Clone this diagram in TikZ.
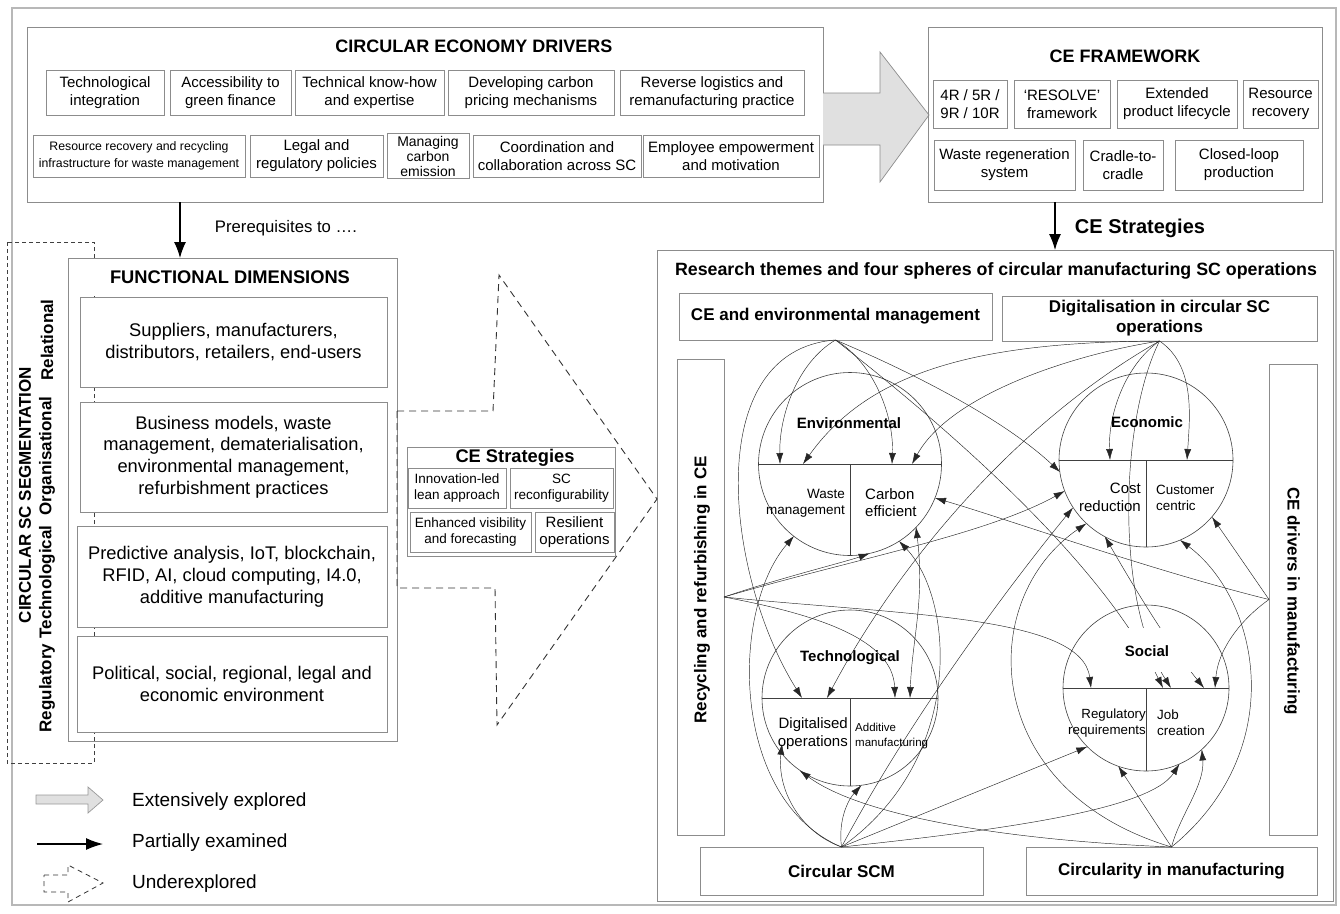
\documentclass[tikz,border=0pt]{standalone}
\usepackage{fontspec}
\setmainfont{Liberation Sans}
\usetikzlibrary{arrows.meta}
\newcommand{\fs}[2]{\fontsize{#1}{#2}\selectfont}
\begin{document}
\begin{tikzpicture}[x=1pt,y=-1pt,
  gbox/.style={draw=black!45, line width=0.8pt, fill=white, align=center, inner sep=1pt, outer sep=0pt},
  obox/.style={draw=black!45, line width=1pt, inner sep=0pt, outer sep=0pt},
  sph/.style={circle, draw=black!75, line width=0.6pt, inner sep=0pt, outer sep=0pt},
  arr/.style={draw=black!85, line width=0.45pt, -{Latex[length=11pt,width=7pt]}},
  arrb/.style={draw=black!85, line width=0.45pt, {Latex[length=11pt,width=7pt]}-{Latex[length=11pt,width=7pt]}},
  bigarr/.style={draw=black, line width=1.2pt, -{Latex[length=16pt,width=12pt]}},
  lbl/.style={inner sep=0pt, align=center},
  dsh/.style={draw=black!80, line width=0.9pt, dash pattern=on 7pt off 5pt},
]
\useasboundingbox (0,0) rectangle (1340,913);
% outer frame
\draw[black!28, line width=1.6pt] (12,8) rectangle (1336,905);

% ---------------- DRIVERS ----------------
\node[obox, minimum width=796pt, minimum height=175pt] (drv) at (425,114.5) {};
\node[lbl, font=\bfseries\fs{18}{21}] (drvt) at (474,46) {CIRCULAR ECONOMY DRIVERS};
\begin{scope}[every node/.style={gbox, font=\fs{15}{18}}]
\node[minimum width=118pt, minimum height=45pt] (d1) at (105,92.5) {Technological\\integration};
\node[minimum width=121pt, minimum height=45pt] (d2) at (230.5,92.5) {Accessibility to\\green finance};
\node[minimum width=149pt, minimum height=45pt] (d3) at (369.5,92.5) {Technical know-how\\and expertise};
\node[minimum width=166pt, minimum height=45pt] (d4) at (531,92.5) {Developing carbon\\pricing mechanisms};
\node[minimum width=184pt, minimum height=45pt] (d5) at (712,92.5) {Reverse logistics and\\remanufacturing practice};
\node[minimum width=212pt, minimum height=42pt, font=\fs{12.3}{17}] (d6) at (139,156) {Resource recovery and recycling\\infrastructure for waste management};
\node[minimum width=133pt, minimum height=42pt] (d7) at (316.5,156) {Legal and\\regulatory policies};
\node[minimum width=82pt, minimum height=45pt, font=\fs{14}{15}] (d8) at (428,156) {Managing\\carbon\\emission};
\node[minimum width=168pt, minimum height=42pt] (d9) at (557,156) {Coordination and\\collaboration across SC};
\node[minimum width=176pt, minimum height=42pt] (d10) at (731,156) {Employee empowerment\\and motivation};
\end{scope}

% big grey arrow
\draw[draw=black!45, fill=black!12, line width=0.7pt] (823,93) -- (880,93) -- (880,52) -- (929,115) -- (880,182) -- (880,145) -- (823,145);

% ---------------- CE FRAMEWORK ----------------
\node[obox, minimum width=394pt, minimum height=175pt] (frm) at (1125,114.5) {};
\node[lbl, font=\bfseries\fs{18}{21}] (frmt) at (1125,56) {CE FRAMEWORK};
\begin{scope}[every node/.style={gbox, font=\fs{15}{18}}]
\node[minimum width=74pt, minimum height=48pt] (f1) at (970,104) {4R / 5R /\\9R / 10R};
\node[minimum width=96pt, minimum height=48pt] (f2) at (1062,104) {‘RESOLVE’\\framework};
\node[minimum width=120pt, minimum height=48pt] (f3) at (1177,104) {Extended\\product lifecycle};
\node[minimum width=75pt, minimum height=48pt] (f4) at (1280.5,104) {Resource\\recovery};
\node[minimum width=141pt, minimum height=50pt] (f5) at (1004.5,165) {Waste regeneration\\system};
\node[minimum width=80pt, minimum height=50pt] (f6) at (1123,165) {Cradle-to-\\cradle};
\node[minimum width=128pt, minimum height=50pt] (f7) at (1239,165) {Closed-loop\\production};
\end{scope}

% ---------------- RESEARCH BOX ----------------
\node[obox, minimum width=676pt, minimum height=651pt] (res) at (995,575.5) {};
\draw[bigarr] ([xshift=-70pt]frm.south) -- ([xshift=60pt]res.north);
\node[lbl, font=\bfseries\fs{20}{23}] (cest) at (1140,228) {CE Strategies};
\node[lbl, font=\bfseries\fs{17.8}{21}] (rest) at (996,271) {Research themes and four spheres of circular manufacturing SC operations};

\begin{scope}[every node/.style={gbox, font=\bfseries\fs{17}{20}}]
\node[minimum width=313pt, minimum height=47pt] (ceem) at (835.5,316.5) {CE and environmental management};
\node[minimum width=315pt, minimum height=45pt] (dig) at (1159.5,318.5) {Digitalisation in circular SC\\operations};
\node[minimum width=47pt, minimum height=476pt] (rec) at (700.5,597) {};
\node[minimum width=48pt, minimum height=471pt] (ced) at (1293,599.5) {};
\node[minimum width=283pt, minimum height=48pt] (scm) at (841.5,871) {Circular SCM};
\node[minimum width=291pt, minimum height=48pt] (cim) at (1171.5,871) {Circularity in manufacturing};
\end{scope}
\node[lbl, rotate=90, font=\bfseries\fs{17}{20}] (rect) at (702,590) {Recycling and refurbishing in CE};
\node[lbl, rotate=-90, font=\bfseries\fs{17}{20}] (cedt) at (1292,601) {CE drivers in manufacturing};

% sources
\coordinate (A) at (ceem.south);
\coordinate (B) at (dig.south);
\coordinate (C) at (rec.east);
\coordinate (D) at (ced.west);
\coordinate (E) at (scm.north);
\coordinate (F) at (cim.north);

% spheres
\node[sph, minimum size=183pt] (env) at (850,464) {};
\node[sph, minimum size=174pt] (eco) at (1146,460) {};
\node[sph, minimum size=176pt] (tec) at (850,698) {};
\node[sph, minimum size=166pt] (soc) at (1146,688) {};
\foreach \s in {env,eco,tec,soc}{
  \draw[black!75, line width=0.6pt] (\s.west) -- (\s.east);
  \draw[black!75, line width=0.6pt] (\s.center) -- (\s.south);
}

% target coordinates
\coordinate (e1) at (780,464); \coordinate (e2) at (803,464);
\coordinate (e3) at (892,464); \coordinate (e4) at (912,464);
\coordinate (e5) at (935,498); \coordinate (e6) at (916,527);
\coordinate (e7) at (899,541); \coordinate (e8) at (869.6,553.4);
\coordinate (e9) at (794,536);
\coordinate (c1) at (1110,460); \coordinate (c2) at (1187,460);
\coordinate (c3) at (1060,472); \coordinate (c4) at (1064.7,491);
\coordinate (c5) at (1073,507.6); \coordinate (c6) at (1086.4,523.4);
\coordinate (c7) at (1104.8,536.6); \coordinate (c8) at (1180,540);
\coordinate (c9) at (1212,517);
\coordinate (t1) at (802,698); \coordinate (t2) at (827,698);
\coordinate (t3) at (895,698); \coordinate (t4) at (910,698);
\coordinate (t5) at (782,743.7); \coordinate (t6) at (799.7,770.5);
\coordinate (t7) at (861.4,785.2);
\coordinate (s1) at (1091,688); \coordinate (s2) at (1163,688);
\coordinate (s3) at (1171,688); \coordinate (s4) at (1204,688);
\coordinate (s5) at (1215,688);
\coordinate (s6) at (1087.3,746.7); \coordinate (s7) at (1118.3,766.2);
\coordinate (s8) at (1179.4,764); \coordinate (s9) at (1201.8,749.4);

% connectors
\draw[arr] (A) .. controls (798,362) and (779,415) .. (e1);
\draw[arr] (A) .. controls (873,362) and (894,415) .. (e3);
\draw[arr] (A) .. controls (700,350) and (725,575) .. (t1);
\draw[arr] (A) .. controls (930,380) and (1010,425) .. (c3);
\draw[arr] (A) .. controls (950,430) and (1100,560) .. (s2);
\draw[arr] (B) .. controls (1125,365) and (1108,415) .. (c1);
\draw[arr] (B) .. controls (1195,365) and (1190,415) .. (c2);
\draw[arr] (B) .. controls (980,342) and (870,370) .. (e2);
\draw[arr] (B) .. controls (1070,355) and (950,395) .. (e4);
\draw[arr] (B) .. controls (1020,420) and (900,560) .. (t2);
\draw[arr] (B) .. controls (1120,420) and (1115,600) .. (s3);
\draw[arr] (C) .. controls (780,578) and (845,562) .. (e8);
\draw[arr] (C) .. controls (850,560) and (985,535) .. (c4);
\draw[arr] (C) .. controls (820,615) and (893,640) .. (t3);
\draw[arr] (C) .. controls (900,615) and (1082,615) .. (s1);
\draw[arr] (D) .. controls (1150,570) and (1010,520) .. (e5);
\draw[arr] (D) .. controls (1250,572) and (1228,540) .. (c9);
\draw[arr] (D) .. controls (1240,620) and (1218,650) .. (s5);
\draw[arr] (E) .. controls (730,800) and (730,610) .. (e9);
\draw[arr] (E) .. controls (800,832) and (777,790) .. (t5);
\draw[arr] (E) .. controls (838,820) and (848,800) .. (t7);
\draw[arr] (E) -- (s6);
\draw[arr] (E) .. controls (1000,830) and (1150,810) .. (s8);
\draw[arr] (E) .. controls (920,700) and (1030,560) .. (c5);
\draw[arr] (E) .. controls (965,760) and (955,600) .. (e7);
\draw[arr] (F) .. controls (1000,840) and (860,815) .. (t6);
\draw[arr] (F) -- (s7);
\draw[arr] (F) .. controls (1180,815) and (1205,785) .. (s9);
\draw[arr] (F) .. controls (980,790) and (975,600) .. (c6);
\draw[arr] (F) .. controls (1290,750) and (1260,600) .. (c8);
\draw[arrb] (e6) .. controls (925,600) and (912,640) .. (t4);
\draw[arrb] (c7) .. controls (1130,580) and (1165,640) .. (s4);

% sphere labels
\node[lbl, font=\bfseries\fs{15}{18}] (envt) at (849,423) {Environmental};
\node[lbl, anchor=east, align=right, font=\fs{13.5}{16}] (envw) at (845,503) {Waste\\management};
\node[lbl, anchor=west, align=left, font=\fs{15}{17}] (envc) at (865,503) {Carbon\\efficient};
\node[lbl, font=\bfseries\fs{15}{18}] (ecot) at (1147,422) {Economic};
\node[lbl, anchor=east, align=right, font=\fs{15}{18}] (ecoc) at (1141,497) {Cost\\reduction};
\node[lbl, anchor=west, align=left, font=\fs{13.4}{16}] (ecou) at (1156,498) {Customer\\centric};
\node[lbl, font=\bfseries\fs{15}{18}] (tect) at (850,658) {Technological};
\node[lbl, anchor=east, align=right, font=\fs{15}{18}] (tecd) at (848,734) {Digitalised\\operations};
\node[lbl, anchor=west, align=left, font=\fs{11.5}{15}] (teca) at (855,736) {Additive\\manufacturing};
\node[fill=white, inner sep=0pt, minimum width=92pt, minimum height=44pt] (socb) at (1150,650) {};
\node[lbl, font=\bfseries\fs{15}{18}] (soct) at (1147,651) {Social};
\node[lbl, anchor=east, align=right, font=\fs{13.3}{16}] (socr) at (1146,723) {Regulatory\\requirements};
\node[lbl, anchor=west, align=left, font=\fs{13.4}{16}] (socj) at (1157,723) {Job\\creation};

% ---------------- FUNCTIONAL DIMENSIONS ----------------
\draw[draw=black!75, line width=0.9pt, dash pattern=on 4pt off 3pt] (7,242) rectangle (94,763);
\node[obox, minimum width=329pt, minimum height=483pt] (fd) at (232.5,499.5) {};
\fill[white] (69,259) rectangle (396,296);
\draw[bigarr] ([xshift=-245pt]drv.south) -- ([xshift=-52.5pt]fd.north);
\node[lbl, font=\fs{16.7}{20}] (pre) at (286,228) {Prerequisites to ….};
\node[lbl, font=\bfseries\fs{18.3}{21}] (fdt) at (230,277) {FUNCTIONAL DIMENSIONS};
\begin{scope}[every node/.style={gbox, font=\fs{18.3}{21.8}}]
\node[minimum width=307pt, minimum height=90pt] (fd1) at (233.5,342) {Suppliers, manufacturers,\\distributors, retailers, end-users};
\node[minimum width=307pt, minimum height=110pt] (fd2) at (233.5,457) {Business models, waste\\management, dematerialisation,\\environmental management,\\refurbishment practices};
\node[minimum width=310pt, minimum height=101pt] (fd3) at (232,576.5) {Predictive analysis, IoT, blockchain,\\RFID, AI, cloud computing, I4.0,\\additive manufacturing};
\node[minimum width=310pt, minimum height=96pt] (fd4) at (232,684) {Political, social, regional, legal and\\economic environment};
\end{scope}
\node[lbl, rotate=90, font=\bfseries\fs{17}{20}] (seg) at (25,495) {CIRCULAR SC SEGMENTATION};
\node[lbl, rotate=90, font=\bfseries\fs{17}{20}] (rel) at (47,340) {Relational};
\node[lbl, rotate=90, font=\bfseries\fs{17}{20}] (org) at (47,456) {Organisational};
\node[lbl, rotate=90, font=\bfseries\fs{17}{20}] (tech) at (47,582) {Technological};
\node[lbl, rotate=90, font=\bfseries\fs{17}{20}] (reg) at (47,688) {Regulatory};

% dashed arrow to research box
\draw[dsh] (397,411) -- (493,411) -- (499,275) -- (657,499) -- (497,725) -- (495,588) -- (397,588) -- cycle;

% CE Strategies small box
\node[obox, draw=black!45, minimum width=208pt, minimum height=109pt, fill=white] (ces) at (511,501.5) {};
\node[lbl, font=\bfseries\fs{18.3}{21}] (cestt) at (515,458) {CE Strategies};
\begin{scope}[every node/.style={gbox, font=\fs{13.5}{16}}]
\node[minimum width=98pt, minimum height=40pt] (is1) at (457,488) {Innovation-led\\lean approach};
\node[minimum width=103pt, minimum height=40pt] (is2) at (561.5,488) {SC\\reconfigurability};
\node[minimum width=121pt, minimum height=40pt] (is3) at (470.5,532) {Enhanced visibility\\and forecasting};
\node[minimum width=79pt, minimum height=40pt, font=\fs{15}{17}] (is4) at (574.5,532) {Resilient\\operations};
\end{scope}

% ---------------- LEGEND ----------------
\draw[draw=black!40, fill=black!12, line width=0.7pt] (36,795) -- (88,795) -- (88,787) -- (103,800) -- (88,813) -- (88,804) -- (36,804) -- cycle;
\coordinate (lg1) at (37,844); \coordinate (lg2) at (103,844);
\draw[draw=black, line width=1.3pt, -{Latex[length=17pt,width=12pt]}] (lg1) -- (lg2);
\draw[draw=black!80, line width=0.8pt, dash pattern=on 5pt off 4pt] (44,875) -- (68,875) -- (68,865) -- (103,883) -- (68,902) -- (68,892) -- (44,892) -- cycle;
\node[lbl, anchor=base west, font=\fs{19}{22}] (lgt1) at (132,806) {Extensively explored};
\node[lbl, anchor=base west, font=\fs{19}{22}] (lgt2) at (132,847) {Partially examined};
\node[lbl, anchor=base west, font=\fs{19}{22}] (lgt3) at (132,888) {Underexplored};
\end{tikzpicture}
\end{document}
